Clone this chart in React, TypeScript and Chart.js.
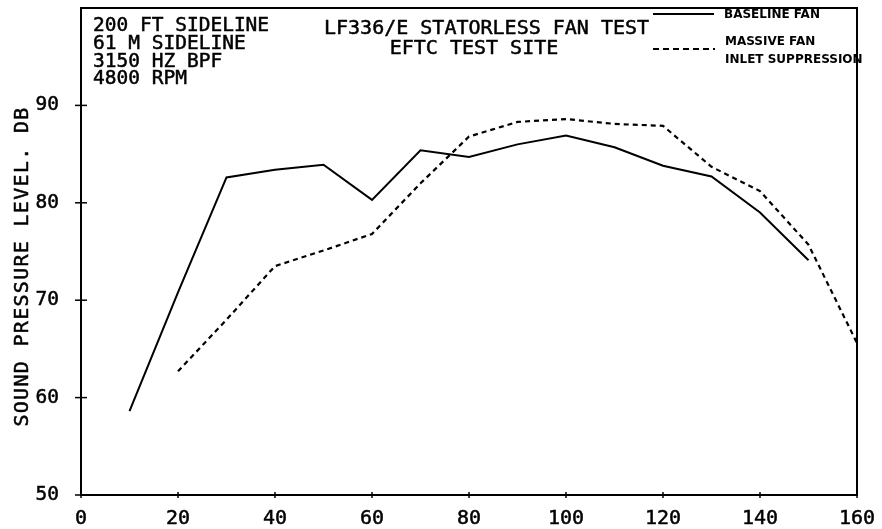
import React, { useEffect, useRef } from "react";
import { Chart, registerables } from "chart.js";

Chart.register(...registerables);

// ---- data ----
const baselineAngles = [10, 20, 30, 40, 50, 60, 70, 80, 90, 100, 110, 120, 130, 140, 150];
const baselineFan = [58.6, 70.8, 82.6, 83.4, 83.9, 80.3, 85.4, 84.7, 86.0, 86.9, 85.7, 83.8, 82.7, 79.0, 74.1];

const suppressedAngles = [20, 30, 40, 50, 60, 70, 80, 90, 100, 110, 120, 130, 140, 150, 160];
const suppressedFan = [62.7, 68.0, 73.5, 75.1, 76.8, 82.0, 86.8, 88.3, 88.6, 88.1, 87.9, 83.7, 81.2, 75.7, 65.6];

const xTickValues = [0, 20, 40, 60, 80, 100, 120, 140, 160];
const yTickValues = [50, 60, 70, 80, 90];

const infoLines = ["200 FT SIDELINE", "61 M SIDELINE", "3150 HZ BPF", "4800 RPM"];
const titleLines = ["LF336/E STATORLESS FAN TEST", "EFTC TEST SITE"];
const legendBaseline = ["BASELINE FAN"];
const legendSuppressed = ["MASSIVE FAN", "INLET SUPPRESSION"];
const yAxisTitle = "SOUND PRESSURE LEVEL. DB";

const MONO = '"DejaVu Sans Mono", monospace';
const BOLD_SANS = '"DejaVu Sans", sans-serif';

function heavyText(ctx: CanvasRenderingContext2D, t: string, x: number, y: number) {
  ctx.fillText(t, x, y);
  ctx.strokeText(t, x, y);
}

const decorPlugin = {
  id: "decor",
  afterDraw(chart: any) {
    const ctx = chart.ctx as CanvasRenderingContext2D;
    const { left, right, top, bottom } = chart.chartArea;
    const xs = chart.scales.x;
    const ys = chart.scales.y;
    ctx.save();
    ctx.strokeStyle = "#000";
    ctx.fillStyle = "#000";
    // frame
    ctx.lineWidth = 2;
    ctx.setLineDash([]);
    ctx.strokeRect(left, top, right - left, bottom - top);
    // tick crosses
    ctx.lineWidth = 1.5;
    yTickValues.forEach((v) => {
      const py = ys.getPixelForValue(v);
      ctx.beginPath();
      ctx.moveTo(left - 6, py);
      ctx.lineTo(left + 6, py);
      ctx.stroke();
    });
    xTickValues.forEach((v) => {
      const px = xs.getPixelForValue(v);
      ctx.beginPath();
      ctx.moveTo(px, bottom - 3);
      ctx.lineTo(px, bottom + 3);
      ctx.stroke();
    });

    // info text
    ctx.lineWidth = 0.5;
    ctx.textAlign = "left";
    ctx.textBaseline = "alphabetic";
    ctx.font = `19.5px ${MONO}`;
    infoLines.forEach((t, i) => heavyText(ctx, t, 93, 31 + i * 17.8));

    // title
    ctx.font = `20px ${MONO}`;
    heavyText(ctx, titleLines[0], 324, 34);
    ctx.textAlign = "center";
    heavyText(ctx, titleLines[1], 474, 54);

    // legend
    ctx.lineWidth = 2;
    ctx.beginPath();
    ctx.moveTo(653, 14);
    ctx.lineTo(714, 14);
    ctx.stroke();
    ctx.setLineDash([6, 4]);
    ctx.beginPath();
    ctx.moveTo(653, 49);
    ctx.lineTo(715, 49);
    ctx.stroke();
    ctx.setLineDash([]);
    ctx.textAlign = "left";
    ctx.font = `bold 12px ${BOLD_SANS}`;
    ctx.fillText(legendBaseline[0], 724, 18);
    ctx.fillText(legendSuppressed[0], 725, 45);
    ctx.fillText(legendSuppressed[1], 725, 63);

    // y-axis title
    ctx.save();
    ctx.translate(23, 267);
    ctx.rotate(-Math.PI / 2);
    ctx.textAlign = "center";
    ctx.textBaseline = "middle";
    ctx.font = `20px ${MONO}`;
    ctx.lineWidth = 0.5;
    (ctx as any).letterSpacing = "1.3px";
    heavyText(ctx, yAxisTitle, 0.5, 0);
    ctx.restore();

    ctx.restore();
  },
};

export default function App() {
  const ref = useRef<HTMLCanvasElement>(null);
  useEffect(() => {
    if (!ref.current) return;
    const chart = new Chart(ref.current, {
      type: "scatter",
      data: {
        datasets: [
          {
            label: legendBaseline[0],
            data: baselineAngles.map((a, i) => ({ x: a, y: baselineFan[i] })),
            showLine: true,
            borderColor: "#000",
            borderWidth: 2,
            pointRadius: 0,
            tension: 0,
          },
          {
            label: legendSuppressed.join(" "),
            data: suppressedAngles.map((a, i) => ({ x: a, y: suppressedFan[i] })),
            showLine: true,
            borderColor: "#000",
            borderWidth: 2.2,
            borderDash: [5, 4],
            pointRadius: 0,
            tension: 0,
          },
        ],
      },
      options: {
        responsive: false,
        animation: false,
        devicePixelRatio: 1,
        layout: { padding: { top: 8, right: 25, left: 0, bottom: 0 } },
        plugins: { legend: { display: false }, tooltip: { enabled: false }, title: { display: false } },
        scales: {
          x: {
            type: "linear",
            min: 0,
            max: 160,
            afterBuildTicks: (s: any) => {
              s.ticks = xTickValues.map((v) => ({ value: v }));
            },
            afterFit: (s: any) => {
              s.height = 34;
              s.paddingLeft = 0;
              s.paddingRight = 0;
              s.paddingTop = 0;
              s.paddingBottom = 0;
            },
            grid: { display: false, drawTicks: false },
            border: { display: false },
            ticks: {
              color: "#000",
              textStrokeColor: "#000",
              textStrokeWidth: 0.5,
              padding: 11.5,
              maxRotation: 0,
              autoSkip: false,
              font: { family: MONO, size: 20 },
            },
          },
          y: {
            type: "linear",
            min: 50,
            max: 100,
            afterBuildTicks: (s: any) => {
              s.ticks = yTickValues.map((v) => ({ value: v }));
            },
            afterFit: (s: any) => {
              s.width = 81;
              s.paddingLeft = 0;
              s.paddingRight = 0;
              s.paddingTop = 0;
              s.paddingBottom = 0;
            },
            grid: { display: false, drawTicks: false },
            border: { display: false },
            ticks: {
              color: "#000",
              textStrokeColor: "#000",
              textStrokeWidth: 0.5,
              padding: 22,
              autoSkip: false,
              font: { family: MONO, size: 19.5 },
            },
          },
        },
      },
      plugins: [decorPlugin],
    });
    return () => chart.destroy();
  }, []);
  return (
    <div style={{ position: "absolute", left: 0, top: 0, width: 882, height: 529, background: "#fff" }}>
      <canvas ref={ref} width={882} height={529} style={{ display: "block" }} />
    </div>
  );
}
